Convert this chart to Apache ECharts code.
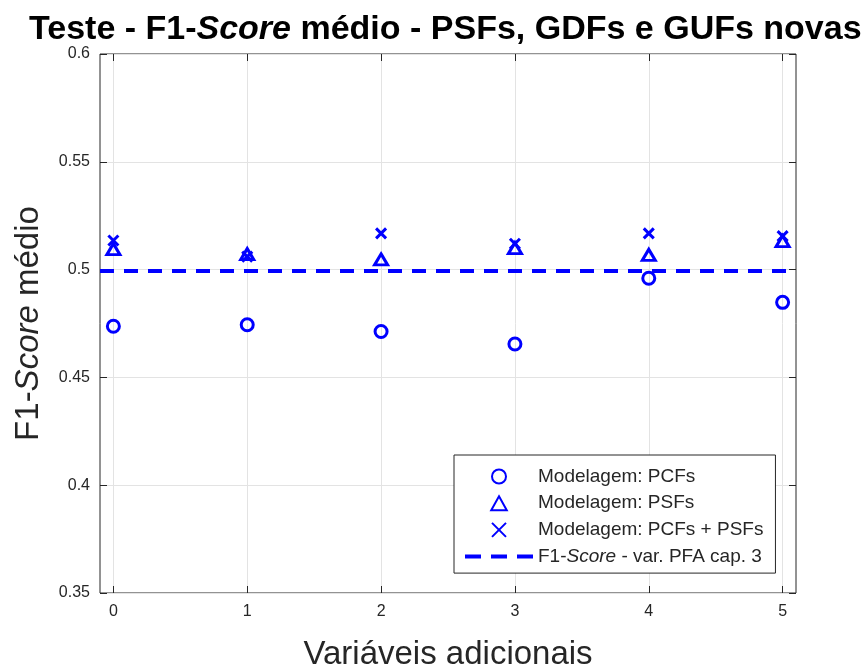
<!DOCTYPE html>
<html><head><meta charset="utf-8">
<script src="https://cdn.jsdelivr.net/npm/echarts@6/dist/echarts.min.js"></script>
<style>html,body{margin:0;padding:0;background:#fff}#c{width:866px;height:668px}</style>
</head><body><div id="c"></div>
<script>
const xCats = [0, 1, 2, 3, 4, 5];
const pcfs = [0.4737, 0.4744, 0.4713, 0.4655, 0.4960, 0.4848];
const psfs = [0.5095, 0.5072, 0.5047, 0.5100, 0.5068, 0.5132];
const pcfsPsfs = [0.5135, 0.5060, 0.5168, 0.5120, 0.5168, 0.5155];
const refValue = 0.4993;
const xRange = [-0.1, 5.1];
const names = ['Modelagem: PCFs', 'Modelagem: PSFs', 'Modelagem: PCFs + PSFs', 'F1-Score - var. PFA cap. 3'];

const blue = '#0000ff';
const axisCol = '#262626';
const font = 'Liberation Sans';
const pair = arr => arr.map((v, i) => [xCats[i], v]);

const chart = echarts.init(document.getElementById('c'));
const baseX = {
  type: 'value', min: xRange[0], max: xRange[1],
  axisLine: {show: false, onZero: false},
  axisTick: {show: true, inside: true, length: 7, lineStyle: {color: axisCol}, customValues: xCats},
  splitLine: {show: false}
};
const baseY = {
  type: 'value', min: 0.35, max: 0.6, interval: 0.05,
  axisLine: {show: false, onZero: false},
  axisTick: {show: true, inside: true, length: 7, lineStyle: {color: axisCol}},
  splitLine: {show: false}
};
const hollow = {color: 'rgba(0,0,0,0)', borderColor: blue, borderWidth: 3, opacity: 1};
chart.setOption({
  animation: false,
  backgroundColor: '#fff',
  textStyle: {fontFamily: font},
  title: {
    text: '{b|Teste - F1-}{bi|Score}{b| médio - PSFs, GDFs e GUFs novas}',
    left: 29, top: 13, padding: 0,
    textStyle: {
      rich: {
        b: {fontFamily: font, fontWeight: 'bold', fontSize: 34, color: '#000'},
        bi: {fontFamily: font, fontWeight: 'bold', fontStyle: 'italic', fontSize: 34, color: '#000'}
      }
    }
  },
  grid: {left: 100, right: 70, top: 54, bottom: 75, show: true, borderColor: axisCol, borderWidth: 1,
    containLabel: false, outerBoundsMode: 'none'},
  legend: {
    orient: 'vertical', left: 454, top: 455,
    padding: [12, 12, 7, 11],
    backgroundColor: '#fff', borderColor: axisCol, borderWidth: 1,
    itemWidth: 68, itemHeight: 14, itemGap: 7.7,
    symbolKeepAspect: true,
    data: [
      {name: names[0], icon: 'circle'},
      {name: names[1], icon: 'path://M5,0L10,9L0,9Z'},
      {name: names[2]},
      {name: names[3], icon: 'path://M0,0H16V4H0Z M26,0H42V4H26Z M52,0H68V4H52Z', itemStyle: {color: blue, borderWidth: 0}}
    ],
    formatter: n => n === names[3] ? '{n|F1-}{i|Score}{n| - var. PFA cap. 3}' : '{n|' + n + '}',
    textStyle: {
      fontFamily: font, fontSize: 19, lineHeight: 15, color: axisCol,
      rich: {
        n: {fontFamily: font, fontSize: 19, lineHeight: 15, color: axisCol},
        i: {fontFamily: font, fontSize: 19, lineHeight: 15, fontStyle: 'italic', color: axisCol}
      }
    }
  },
  xAxis: [
    Object.assign({}, baseX, {
      position: 'bottom',
      name: 'Variáveis adicionais', nameLocation: 'middle', nameGap: 45,
      nameTextStyle: {fontFamily: font, fontSize: 33, color: axisCol},
      axisLabel: {show: true, customValues: xCats, fontFamily: font, fontSize: 16, color: axisCol, margin: 11},
      splitLine: {show: true, lineStyle: {color: '#e3e3e3'}}
    }),
    Object.assign({}, baseX, {position: 'top', axisLabel: {show: false}})
  ],
  yAxis: [
    Object.assign({}, baseY, {
      position: 'left',
      name: '{n|F1-}{i|Score}{n| médio}', nameLocation: 'middle', nameGap: 55, nameRotate: 90,
      nameTextStyle: {
        rich: {
          n: {fontFamily: font, fontSize: 33, color: axisCol},
          i: {fontFamily: font, fontSize: 33, fontStyle: 'italic', color: axisCol}
        }
      },
      axisLabel: {show: true, fontFamily: font, fontSize: 16, color: axisCol, margin: 10,
        formatter: v => String(+v.toFixed(2))},
      splitLine: {show: true, lineStyle: {color: '#e3e3e3'}}
    }),
    Object.assign({}, baseY, {position: 'right', axisLabel: {show: false}})
  ],
  series: [
    {
      name: names[3], type: 'line', data: [[xRange[0], refValue], [xRange[1], refValue]],
      symbol: 'none', lineStyle: {color: blue, width: 4, type: [14, 10]}, itemStyle: {color: blue}, z: 2
    },
    {
      name: names[0], type: 'scatter', data: pair(pcfs), symbol: 'circle', symbolSize: 12,
      itemStyle: hollow, z: 3
    },
    {
      name: names[1], type: 'scatter', data: pair(psfs), symbol: 'triangle', symbolSize: [13, 11],
      itemStyle: hollow, z: 3
    },
    {
      name: names[2], type: 'scatter', data: pair(pcfsPsfs),
      symbol: 'path://M0,0L10,10M10,0L0,10', symbolSize: 10,
      itemStyle: hollow, z: 3
    }
  ]
});
</script></body></html>
